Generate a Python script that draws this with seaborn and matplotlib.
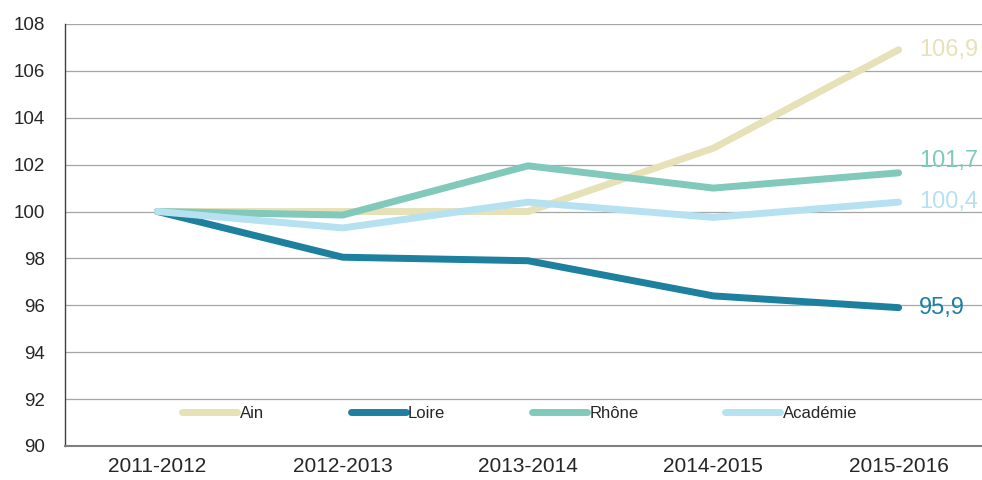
import pandas as pd
import matplotlib.pyplot as plt
import seaborn as sns

# data (index, base 100 in 2011-2012)
years = ['2011-2012', '2012-2013', '2013-2014', '2014-2015', '2015-2016']
ain = [100, 100.0, 100.0, 102.7, 106.9]
loire = [100, 98.05, 97.9, 96.4, 95.9]
rhone = [100, 99.85, 101.95, 101.0, 101.65]
academie = [100, 99.3, 100.4, 99.75, 100.4]
series_names = ['Ain', 'Loire', 'Rhône', 'Académie']
end_labels = ['106,9', '95,9', '101,7', '100,4']
colors = ['#E6E1B7', '#1C809E', '#80C9BB', '#B6E1F1']

df = pd.DataFrame({'year': years * 4,
                   'x': list(range(len(years))) * 4,
                   'value': ain + loire + rhone + academie,
                   'serie': sum([[n] * len(years) for n in series_names], [])})

sns.set_style('white')
plt.rcParams['font.family'] = ['Liberation Sans', 'DejaVu Sans']

fig = plt.figure(figsize=(9.82, 4.8), dpi=100)
ax = fig.add_axes([0.066, 0.071, 0.934, 0.879])

for y in range(92, 110, 2):
    ax.axhline(y, color='#A6A6A6', lw=0.9, zorder=0)

sns.lineplot(data=df, x='x', y='value', hue='serie', hue_order=series_names,
             palette=colors, linewidth=5, ax=ax, legend=False,
             solid_capstyle='round', sort=False)

# end-of-line value labels (Rhône one lifted a bit so it clears the Académie label)
for i, (name, lab) in enumerate(zip(series_names, end_labels)):
    val = df[(df.serie == name) & (df.x == 4)]['value'].iloc[0]
    if name == 'Rhône':
        val += 0.5
    ax.text(4.11, val, lab, color=colors[i], fontsize=17, va='center', ha='left')

ax.set_xlim(-0.5, 4.45)
ax.set_ylim(90, 108)
ax.set_yticks(range(90, 110, 2))
ax.set_xticks(range(len(years)))
ax.set_xticklabels(years)
ax.set_xticks([i + 0.5 for i in range(-1, 4)], minor=True)
ax.tick_params(axis='x', which='major', length=0, labelsize=15, pad=8)
ax.tick_params(axis='x', which='minor', length=6, color='#808080', width=1)
ax.tick_params(axis='y', length=5, labelsize=13.5, color='#808080', width=1, pad=9)
ax.set_xlabel('')
ax.set_ylabel('')

for s in ['top', 'right']:
    ax.spines[s].set_visible(False)
ax.spines['left'].set_color('#404040')
ax.spines['left'].set_linewidth(1)
ax.spines['bottom'].set_color('#808080')
ax.spines['bottom'].set_linewidth(1.5)

handles = [plt.Line2D([], [], color=c, lw=5, solid_capstyle='round') for c in colors]
ax.legend(handles, series_names, loc='center left', bbox_to_anchor=(0.119, 0.077),
          ncol=4, frameon=False, fontsize=12, handlelength=3.3,
          handletextpad=0.15, columnspacing=5.2, borderpad=0)

fig.savefig('out.png', dpi=100)
